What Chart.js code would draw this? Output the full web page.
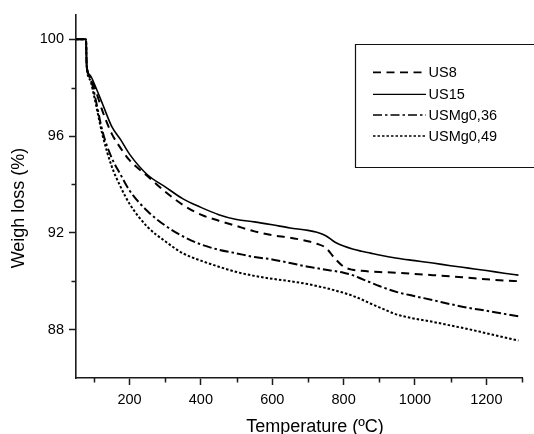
<!DOCTYPE html>
<html>
<head>
<meta charset="utf-8">
<script src="https://cdn.jsdelivr.net/npm/chart.js@4.4.1/dist/chart.umd.min.js"></script>
<style>
  html, body { margin: 0; padding: 0; background: #fff; }
  #wrap { width: 534px; height: 434px; position: relative; }
</style>
</head>
<body>
<div id="wrap"><canvas id="c" width="534" height="434"></canvas></div>
<script>
// ---- data ----
const temps = [50, 78, 80, 90, 100, 125, 150, 175, 200, 250, 300, 350, 400, 450, 500, 550, 600, 650, 700, 725, 750, 775, 800, 825, 850, 875, 900, 950, 1000, 1050, 1100, 1150, 1200, 1250, 1290];
const us8 = [100, 100, 98.9, 98.45, 98.1, 97.0, 96.1, 95.5, 95.0, 94.35, 93.7, 93.15, 92.75, 92.5, 92.28, 92.06, 91.9, 91.8, 91.65, 91.55, 91.38, 90.95, 90.6, 90.47, 90.43, 90.4, 90.38, 90.35, 90.3, 90.25, 90.2, 90.14, 90.08, 90.03, 90.0];
const us15 = [100, 100, 98.9, 98.5, 98.2, 97.3, 96.4, 95.85, 95.25, 94.4, 93.9, 93.4, 93.05, 92.75, 92.55, 92.45, 92.33, 92.2, 92.1, 92.02, 91.88, 91.62, 91.45, 91.33, 91.24, 91.16, 91.08, 90.95, 90.85, 90.75, 90.64, 90.54, 90.44, 90.33, 90.25];
const usmg036 = [100, 100, 98.9, 98.4, 97.85, 96.15, 95.1, 94.4, 93.75, 92.9, 92.3, 91.85, 91.52, 91.3, 91.15, 91.0, 90.9, 90.75, 90.6, 90.54, 90.47, 90.42, 90.35, 90.25, 90.1, 89.95, 89.8, 89.55, 89.38, 89.22, 89.05, 88.9, 88.78, 88.65, 88.55];
const usmg049 = [100, 100, 98.9, 98.3, 97.7, 96.0, 94.75, 93.9, 93.2, 92.25, 91.65, 91.15, 90.85, 90.6, 90.38, 90.22, 90.1, 90.0, 89.88, 89.8, 89.72, 89.62, 89.52, 89.4, 89.25, 89.08, 88.92, 88.62, 88.45, 88.32, 88.17, 88.02, 87.85, 87.68, 87.55];
const seriesNames = ['US8', 'US15', 'USMg0,36', 'USMg0,49'];
const xMajorTicks = [200, 400, 600, 800, 1000, 1200];
const xMinorTicks = [100, 300, 500, 700, 900, 1100, 1300];
const yMajorTicks = [88, 92, 96, 100];
const yMinorTicks = [90, 94, 98];
const xTitle = 'Temperature (ºC)';
const yTitle = 'Weigh loss (%)';

// ---- styles ----
const FONT = '"Liberation Sans", Arial, Helvetica, sans-serif';
const AXIS = '#1a1a1a';
const styles = [
  { dash: [8, 5.5], width: 2 },
  { dash: [], width: 1.6 },
  { dash: [9, 3, 2.5, 3], width: 2 },
  { dash: [2.5, 2], width: 2 }
];
const values = [us8, us15, usmg036, usmg049];

const datasets = values.map((arr, i) => ({
  label: seriesNames[i],
  data: temps.map((t, k) => ({ x: t, y: arr[k] })),
  borderColor: '#000',
  borderWidth: styles[i].width,
  borderDash: styles[i].dash,
  pointRadius: 0,
  fill: false,
  cubicInterpolationMode: 'monotone'
}));

const decor = {
  id: 'decor',
  afterDraw(chart) {
    const ctx = chart.ctx;
    const xs = chart.scales.x, ys = chart.scales.y;
    const a = chart.chartArea;
    ctx.save();
    // minor ticks
    ctx.strokeStyle = AXIS;
    ctx.lineWidth = 1.5;
    ctx.setLineDash([]);
    ctx.beginPath();
    xMinorTicks.forEach(v => {
      const px = Math.round(xs.getPixelForValue(v)) + 0.5;
      ctx.moveTo(px, a.bottom);
      ctx.lineTo(px, a.bottom + 4.5);
    });
    yMinorTicks.forEach(v => {
      const py = Math.round(ys.getPixelForValue(v)) + 0.5;
      ctx.moveTo(a.left, py);
      ctx.lineTo(a.left - 4.5, py);
    });
    ctx.stroke();

    // axis titles
    ctx.fillStyle = '#000';
    ctx.font = '18px ' + FONT;
    ctx.textAlign = 'center';
    ctx.textBaseline = 'alphabetic';
    ctx.fillText(xTitle, a.left + 239, a.bottom + 53.5);
    ctx.save();
    ctx.translate(a.left - 52.5, a.top + 193);
    ctx.rotate(-Math.PI / 2);
    ctx.fillText(yTitle, 0, 0);
    ctx.restore();

    // legend (box runs off the right edge, as in the reference)
    const bx = a.left + 279.5, by = a.top + 29.5, bh = 123;
    ctx.lineWidth = 1.2;
    ctx.strokeStyle = '#111';
    ctx.beginPath();
    ctx.moveTo(chart.width + 5, by);
    ctx.lineTo(bx, by);
    ctx.lineTo(bx, by + bh);
    ctx.lineTo(chart.width + 5, by + bh);
    ctx.stroke();
    const rowY = [72.3, 94.3, 115, 136];
    ctx.font = '14.5px ' + FONT;
    ctx.textAlign = 'left';
    ctx.textBaseline = 'middle';
    seriesNames.forEach((n, i) => {
      const y = rowY[i];
      ctx.beginPath();
      ctx.setLineDash(styles[i].dash);
      ctx.lineWidth = styles[i].width - 0.3;
      ctx.strokeStyle = '#000';
      ctx.moveTo(373, y);
      ctx.lineTo(426, y);
      ctx.stroke();
      ctx.setLineDash([]);
      ctx.fillText(n, 428.5, y + 0.5);
    });
    ctx.restore();
  }
};

new Chart(document.getElementById('c'), {
  type: 'line',
  data: { datasets },
  options: {
    responsive: false,
    animation: false,
    layout: { padding: { left: 0, top: 15, right: 12, bottom: 0 } },
    plugins: { legend: { display: false }, tooltip: { enabled: false } },
    scales: {
      x: {
        type: 'linear',
        min: 50, max: 1300,
        afterBuildTicks: s => { s.ticks = xMajorTicks.map(v => ({ value: v })); },
        afterFit: s => { s.height = 56; },
        grid: { display: true, drawOnChartArea: false, drawTicks: true, tickLength: 7, tickColor: AXIS, tickWidth: 1.5 },
        border: { display: true, color: AXIS, width: 1.6 },
        ticks: { color: '#000', font: { family: FONT, size: 14.5 }, padding: 6, maxRotation: 0, autoSkip: false, callback: v => String(v) }
      },
      y: {
        type: 'linear',
        min: 86, max: 101,
        afterBuildTicks: s => { s.ticks = yMajorTicks.map(v => ({ value: v })); },
        afterFit: s => { s.width = 76; },
        grid: { display: true, drawOnChartArea: false, drawTicks: true, tickLength: 7, tickColor: AXIS, tickWidth: 1.5 },
        border: { display: true, color: AXIS, width: 1.6 },
        ticks: { color: '#000', font: { family: FONT, size: 14.5 }, padding: 5, autoSkip: false, callback: v => String(v) }
      }
    }
  },
  plugins: [decor]
});
</script>
</body>
</html>
